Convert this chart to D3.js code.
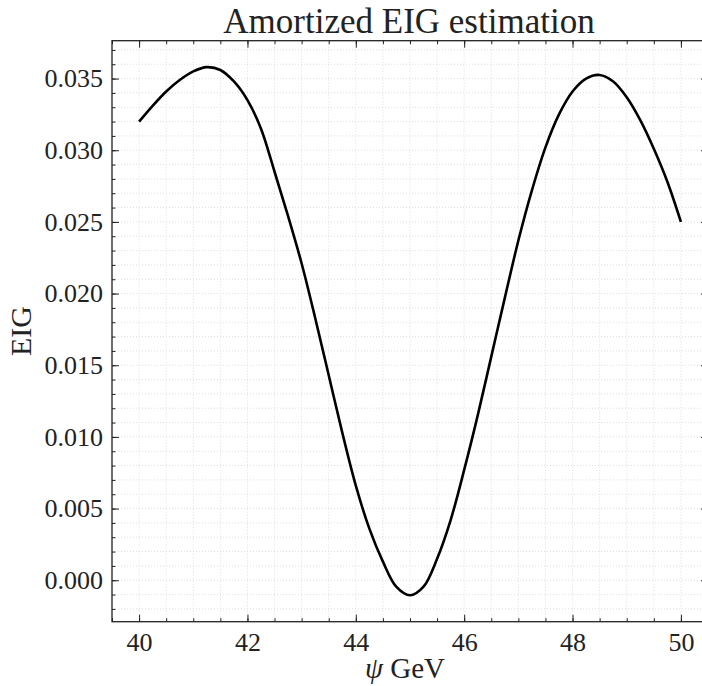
<!DOCTYPE html>
<html>
<head>
<meta charset="utf-8">
<script src="https://cdn.jsdelivr.net/npm/d3@7"></script>
<style>
  body { margin: 0; background: #fff; }
  svg { display: block; }
</style>
</head>
<body>
<script>
const psi = [40, 40.25, 40.5, 40.75, 41, 41.25, 41.5, 41.75, 42, 42.25, 42.5, 42.75, 43, 43.25, 43.5, 43.75,
  44, 44.25, 44.5, 44.75, 45, 45.25, 45.5, 45.75, 46, 46.25, 46.5, 46.75, 47, 47.25, 47.5, 47.75,
  48, 48.25, 48.5, 48.75, 49, 49.25, 49.5, 49.75, 50];
const eig = [0.0320, 0.0331, 0.0341, 0.0349, 0.0355, 0.0358, 0.0356, 0.0348, 0.0335, 0.0315, 0.0285, 0.0254, 0.0221, 0.0183, 0.0143, 0.0103,
  0.0066, 0.0036, 0.0013, -0.00047, -0.00105, -0.00045, 0.0015, 0.0042, 0.0077, 0.0115, 0.0156, 0.0197, 0.0237, 0.0272, 0.0302, 0.0325,
  0.0341, 0.0350, 0.03525, 0.0348, 0.0337, 0.0321, 0.0301, 0.0278, 0.0250];
const xTicks = [40, 42, 44, 46, 48, 50];
const yTicks = [0.000, 0.005, 0.010, 0.015, 0.020, 0.025, 0.030, 0.035];
const title = 'Amortized EIG estimation';

const width = 702, height = 686;
const margin = { left: 112, top: 40.7, right: -6, bottom: 64.3 };
const iw = width - margin.left - margin.right;
const ih = height - margin.top - margin.bottom;
const serif = '"Liberation Serif", "DejaVu Serif", serif';

const svg = d3.select('body').append('svg')
  .attr('width', width)
  .attr('height', height);

const g = svg.append('g')
  .attr('transform', `translate(${margin.left},${margin.top})`);

// matplotlib style 5% margins
const xPad = (d3.max(psi) - d3.min(psi)) * 0.05;
const yPad = (d3.max(eig) - d3.min(eig)) * 0.05;
const x = d3.scaleLinear()
  .domain([d3.min(psi) - xPad, d3.max(psi) + xPad])
  .range([0, iw]);
const y = d3.scaleLinear()
  .domain([d3.min(eig) - yPad, d3.max(eig) + yPad])
  .range([ih, 0]);

const xMinor = d3.range(39.5, 50.51, 0.5);
const yMinor = d3.range(-0.002, 0.03701, 0.001);

// grid (major + minor)
g.append('g').selectAll('line')
  .data(xMinor)
  .join('line')
  .attr('x1', d => x(d)).attr('x2', d => x(d))
  .attr('y1', 0).attr('y2', ih)
  .attr('stroke', '#d6d6d6').attr('stroke-width', 0.8)
  .attr('stroke-dasharray', '1,2');
g.append('g').selectAll('line')
  .data(yMinor)
  .join('line')
  .attr('y1', d => y(d)).attr('y2', d => y(d))
  .attr('x1', 0).attr('x2', iw)
  .attr('stroke', '#d6d6d6').attr('stroke-width', 0.8)
  .attr('stroke-dasharray', '1,2');

// curve
const line = d3.line()
  .x((d, i) => x(psi[i]))
  .y(d => y(d))
  .curve(d3.curveCatmullRom.alpha(0.5));
g.append('path')
  .datum(eig)
  .attr('d', line)
  .attr('fill', 'none')
  .attr('stroke', '#000')
  .attr('stroke-width', 2.6)
  .attr('stroke-linejoin', 'round');

// axes with inward ticks on all sides
const major = 7, minor = 3.5;
const tickStyle = sel => {
  sel.select('.domain').remove();
  sel.selectAll('.tick line').attr('stroke', '#222').attr('stroke-width', 1);
  sel.selectAll('text')
    .attr('font-family', serif)
    .attr('font-size', 26)
    .attr('fill', '#222');
};

g.append('g')
  .attr('transform', `translate(0,${ih})`)
  .call(d3.axisBottom(x).tickValues(xMinor).tickSize(-minor).tickFormat(''))
  .call(tickStyle);
g.append('g')
  .attr('transform', `translate(0,${ih})`)
  .call(d3.axisBottom(x).tickValues(xTicks).tickSize(-major).tickPadding(11).tickFormat(d3.format('d')))
  .call(tickStyle);
g.append('g')
  .call(d3.axisTop(x).tickValues(xMinor).tickSize(-minor).tickFormat(''))
  .call(tickStyle);
g.append('g')
  .call(d3.axisTop(x).tickValues(xTicks).tickSize(-major).tickFormat(''))
  .call(tickStyle);

g.append('g')
  .call(d3.axisLeft(y).tickValues(yMinor).tickSize(-minor).tickFormat(''))
  .call(tickStyle);
g.append('g')
  .call(d3.axisLeft(y).tickValues(yTicks).tickSize(-major).tickPadding(9).tickFormat(d3.format('.3f')))
  .call(tickStyle);
g.append('g')
  .attr('transform', `translate(${iw},0)`)
  .call(d3.axisRight(y).tickValues(yMinor).tickSize(-minor).tickFormat(''))
  .call(tickStyle);
g.append('g')
  .attr('transform', `translate(${iw},0)`)
  .call(d3.axisRight(y).tickValues(yTicks).tickSize(-major).tickFormat(''))
  .call(tickStyle);

// frame
g.append('rect')
  .attr('width', iw).attr('height', ih)
  .attr('fill', 'none')
  .attr('stroke', '#222')
  .attr('stroke-width', 1.3);

// title and labels
svg.append('text')
  .attr('x', 409).attr('y', 33)
  .attr('text-anchor', 'middle')
  .attr('font-family', serif)
  .attr('font-size', 35)
  .attr('fill', '#222')
  .text(title);

const xl = svg.append('text')
  .attr('x', 405).attr('y', 678)
  .attr('text-anchor', 'middle')
  .attr('font-family', serif)
  .attr('font-size', 29)
  .attr('fill', '#222');
xl.append('tspan').attr('font-style', 'italic').text('ψ');
xl.append('tspan').text(' GeV');

svg.append('text')
  .attr('transform', 'translate(31,331) rotate(-90)')
  .attr('text-anchor', 'middle')
  .attr('font-family', serif)
  .attr('font-size', 30)
  .attr('fill', '#222')
  .text('EIG');
</script>
</body>
</html>
